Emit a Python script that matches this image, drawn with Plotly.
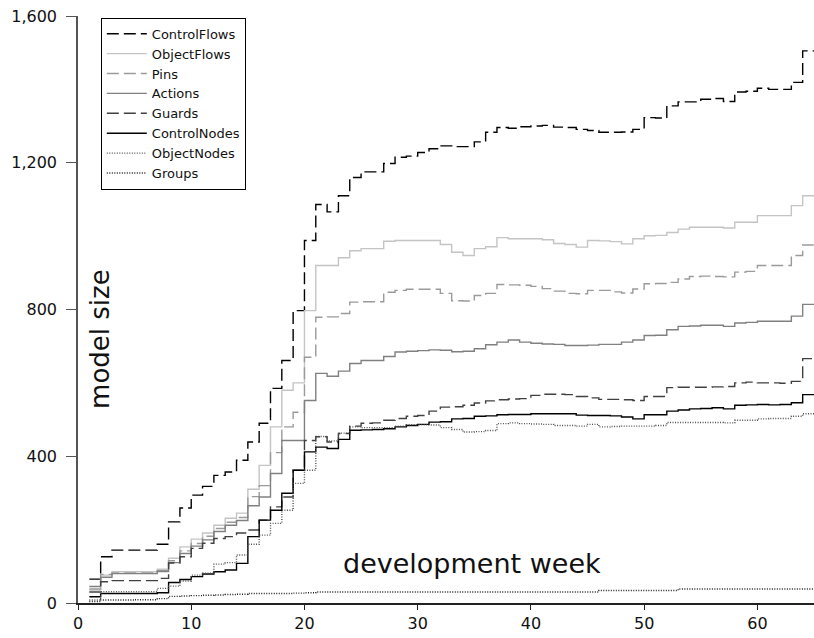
import plotly.graph_objects as go

weeks = list(range(1, 66))

control_flows = [65, 126, 144, 144, 144, 144, 160, 221, 259, 294, 318, 348, 357, 389, 439, 490, 585, 661, 797, 988,
                 1086, 1066, 1110, 1160, 1175, 1175, 1198, 1215, 1218, 1228, 1238, 1246, 1244, 1244, 1257, 1283, 1296, 1294, 1298, 1300,
                 1302, 1297, 1296, 1291, 1288, 1283, 1283, 1284, 1291, 1323, 1322, 1355, 1366, 1366, 1373, 1375, 1367, 1393, 1395, 1403,
                 1400, 1400, 1419, 1505, 1505]
object_flows = [35, 76, 85, 85, 85, 85, 92, 122, 153, 174, 191, 212, 231, 245, 310, 375, 480, 580, 600, 797,
                920, 920, 941, 960, 966, 966, 986, 988, 988, 988, 988, 977, 956, 947, 966, 971, 996, 993, 993, 993,
                990, 980, 977, 970, 988, 987, 985, 979, 993, 1001, 1002, 1010, 1019, 1024, 1024, 1024, 1022, 1038, 1038, 1056,
                1056, 1056, 1083, 1110, 1110]
pins = [38, 78, 82, 82, 82, 82, 88, 115, 142, 162, 182, 203, 220, 233, 290, 320, 410, 480, 520, 670,
        779, 780, 789, 820, 821, 821, 847, 852, 855, 855, 855, 844, 824, 823, 838, 844, 868, 867, 866, 863,
        857, 850, 844, 843, 852, 852, 848, 845, 856, 870, 871, 874, 883, 890, 891, 890, 889, 902, 904, 920,
        920, 920, 947, 976, 976]
actions = [45, 70, 80, 80, 80, 80, 86, 110, 135, 155, 172, 195, 212, 225, 265, 289, 353, 443, 443, 552,
           626, 618, 632, 653, 661, 661, 672, 684, 686, 688, 690, 689, 685, 686, 693, 704, 711, 717, 711, 708,
           706, 705, 702, 702, 703, 705, 705, 711, 717, 729, 730, 745, 754, 755, 757, 757, 754, 763, 765, 768,
           768, 768, 782, 814, 814]
guards = [30, 58, 61, 61, 61, 61, 67, 109, 126, 149, 163, 176, 181, 191, 199, 226, 262, 289, 362, 443,
          453, 439, 462, 482, 490, 491, 498, 503, 509, 511, 523, 534, 535, 539, 545, 551, 554, 556, 557, 566,
          569, 569, 568, 563, 559, 555, 555, 554, 552, 563, 563, 587, 588, 588, 588, 589, 590, 600, 602, 600,
          600, 599, 604, 666, 666]
control_nodes = [17, 26, 26, 26, 26, 26, 28, 56, 64, 72, 79, 85, 90, 108, 181, 226, 253, 299, 362, 412,
                 425, 421, 446, 471, 472, 473, 475, 480, 484, 487, 493, 494, 502, 503, 509, 510, 513, 514, 514, 516,
                 516, 516, 516, 512, 511, 511, 510, 507, 502, 513, 513, 523, 526, 529, 530, 532, 529, 539, 540, 541,
                 540, 541, 546, 568, 568]
object_nodes = [8, 31, 31, 31, 31, 31, 40, 46, 60, 76, 81, 106, 110, 131, 160, 185, 217, 253, 326, 362,
                454, 442, 463, 480, 478, 478, 478, 482, 486, 486, 485, 478, 473, 466, 467, 470, 489, 491, 489, 488,
                487, 484, 484, 482, 487, 480, 481, 482, 482, 482, 484, 492, 492, 492, 492, 492, 491, 498, 498, 502,
                503, 503, 509, 516, 516]
groups = [4, 8, 8, 8, 9, 9, 12, 18, 19, 20, 21, 22, 23, 24, 26, 26, 26, 26, 27, 28,
          30, 30, 30, 30, 30, 30, 30, 30, 30, 30, 30, 30, 30, 30, 30, 30, 30, 30, 30, 30,
          30, 30, 30, 30, 30, 34, 34, 34, 34, 34, 34, 34, 38, 38, 38, 38, 38, 38, 38, 38,
          38, 38, 38, 38, 38]

series = [
    ('ControlFlows', control_flows, '#000000', '12px,5px'),
    ('ObjectFlows', object_flows, '#c4c4c4', 'solid'),
    ('Pins', pins, '#9a9a9a', '12px,5px'),
    ('Actions', actions, '#808080', 'solid'),
    ('Guards', guards, '#404040', '12px,5px'),
    ('ControlNodes', control_nodes, '#000000', 'solid'),
    ('ObjectNodes', object_nodes, '#505050', '1px,1.5px'),
    ('Groups', groups, '#202020', '1px,1.5px'),
]

fig = go.Figure()
for name, vals, color, dash in series:
    fig.add_trace(go.Scatter(
        x=weeks, y=vals, name=name, mode='lines',
        line=dict(color=color, dash=dash, width=1.4, shape='hv'),
    ))

fig.update_layout(
    width=814, height=638,
    margin=dict(l=78, r=0, t=16, b=35, autoexpand=False),
    paper_bgcolor='white', plot_bgcolor='white',
    font=dict(family='DejaVu Sans', color='#111111'),
    showlegend=True,
    legend=dict(
        x=0.031, y=0.997, xanchor='left', yanchor='top',
        bordercolor='#000000', borderwidth=1, bgcolor='white',
        font=dict(size=13, family='DejaVu Sans'),
        tracegroupgap=0, itemwidth=40,
    ),
    xaxis=dict(
        range=[0, 65], tickvals=[0, 10, 20, 30, 40, 50, 60],
        showgrid=False, zeroline=False,
        showline=True, linecolor='#222222', linewidth=1.5,
        ticks='outside', ticklen=5, tickcolor='#222222',
        tickfont=dict(size=16),
    ),
    yaxis=dict(
        range=[0, 1600], tickvals=[0, 400, 800, 1200, 1600], tickformat=',',
        showgrid=False, zeroline=False,
        showline=True, linecolor='#555555', linewidth=1.5,
        ticks='outside', ticklen=10, tickcolor='#555555',
        tickfont=dict(size=16), ticklabelstandoff=6,
    ),
    annotations=[
        dict(text='model size', x=0.03, y=0.45, xref='paper', yref='paper',
             xanchor='center', yanchor='middle',
             textangle=-90, showarrow=False, font=dict(size=26)),
        dict(text='development week', x=0.535, y=0.068, xref='paper', yref='paper',
             xanchor='center', yanchor='middle',
             showarrow=False, font=dict(size=27)),
    ],
)

fig.write_html("out.html", config={'displayModeBar': False},
               post_script="document.body.style.margin='0';")
